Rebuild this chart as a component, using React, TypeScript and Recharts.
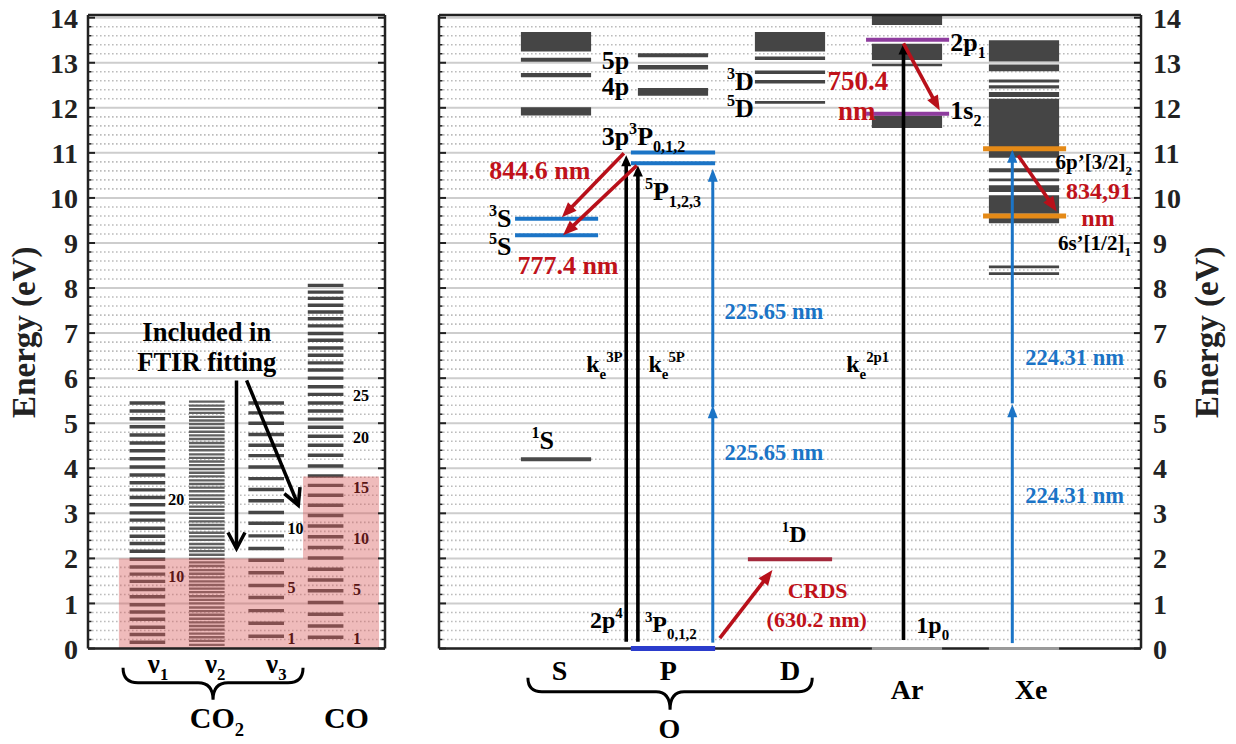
import { ComposedChart, XAxis, YAxis, CartesianGrid, ReferenceLine, ReferenceArea, ReferenceDot } from "recharts"

const FONT = "'Liberation Serif', 'Times New Roman', serif"

// energy axis
const energyTicks = [0, 1, 2, 3, 4, 5, 6, 7, 8, 9, 10, 11, 12, 13, 14]
const gridTicks = Array.from({ length: 71 }, (_, i) => Math.round(i * 2) / 10)

// CO2 / CO vibrational ladders (eV)
const leftCols = ["ν1", "ν2", "ν3", "CO"]
const nu1Levels = [0.14, 0.31, 0.47, 0.65, 0.81, 0.97, 1.15, 1.31, 1.49, 1.65, 1.81, 1.98, 2.16, 2.33, 2.49, 2.67, 2.85, 3.01, 3.19, 3.35, 3.52, 3.68, 3.85, 4.03, 4.21, 4.39, 4.56, 4.74, 4.92, 5.1, 5.27, 5.45]
const nu2Levels = [0.08, 0.17, 0.25, 0.33, 0.42, 0.5, 0.58, 0.66, 0.75, 0.83, 0.91, 1.0, 1.08, 1.16, 1.25, 1.33, 1.41, 1.49, 1.58, 1.66, 1.74, 1.83, 1.91, 1.99, 2.08, 2.16, 2.24, 2.32, 2.41, 2.49, 2.57, 2.66, 2.74, 2.82, 2.9, 2.99, 3.07, 3.15, 3.24, 3.32, 3.4, 3.49, 3.57, 3.65, 3.73, 3.82, 3.9, 3.98, 4.07, 4.15, 4.23, 4.31, 4.4, 4.48, 4.56, 4.65, 4.73, 4.81, 4.9, 4.98, 5.06, 5.14, 5.23, 5.31, 5.39, 5.48]
const nu3Levels = [0.27, 0.56, 0.84, 1.13, 1.4, 1.68, 1.96, 2.22, 2.5, 2.78, 3.02, 3.28, 3.53, 3.77, 4.03, 4.28, 4.51, 4.75, 5.0, 5.23, 5.45]
const coLevels = [0.25, 0.5, 0.76, 1.02, 1.28, 1.52, 1.76, 2.01, 2.24, 2.48, 2.72, 2.95, 3.18, 3.4, 3.62, 3.83, 4.05, 4.29, 4.51, 4.71, 4.91, 5.09, 5.27, 5.45, 5.64, 5.81, 6.0, 6.18, 6.34, 6.51, 6.67, 6.84, 6.99, 7.16, 7.32, 7.47, 7.62, 7.77, 7.91, 8.06]
const ladders = [nu1Levels, nu2Levels, nu3Levels, coLevels]
const nu1Tags: [string, number][] = [["20", 3.3], ["10", 1.6]]
const nu3Tags: [string, number][] = [["10", 2.67], ["5", 1.36], ["1", 0.23]]
const coTags: [string, number][] = [["25", 5.62], ["20", 4.69], ["15", 3.58], ["10", 2.45], ["5", 1.3], ["1", 0.23]]
const co2FitMax = 2.0
const coFitMax = 3.82

// atomic levels (eV)
const rightCols = ["S", "P", "D", "Ar", "Xe"]
const oSBands = [[13.25, 13.68], [13.02, 13.11], [12.68, 12.77], [11.83, 12.01]]
const oPBands = [[13.12, 13.21], [12.85, 12.95], [12.27, 12.44]]
const oDBands = [[13.25, 13.68], [13.06, 13.14], [12.75, 12.83], [12.54, 12.62], [12.09, 12.15]]
const arBands = [[13.84, 14.06], [13.06, 13.42], [12.92, 12.98], [11.55, 11.83]]
const xeBands = [[13.03, 13.5], [12.81, 12.96], [12.56, 12.63], [12.43, 12.5], [12.24, 12.35], [11.13, 12.2], [10.89, 11.05], [10.57, 10.66], [10.37, 10.43], [10.13, 10.28], [9.65, 10.06], [9.44, 9.57], [8.44, 8.5], [8.29, 8.35]]
const bands = [oSBands, oPBands, oDBands, arBands, xeBands]

const O_3S = 9.54
const O_5S = 9.17
const O_1S = 4.2
const O_3P = 11.01
const O_5P = 10.77
const O_1D = 1.98
const AR_2P1 = 13.51
const AR_1S2 = 11.87
const XE_6P = 11.09
const XE_6S = 9.6

// transitions [x1, e1, x2, e2]
const ftirArrows = [[2.5, 5.95, 2.5, 2.22], [2.67, 5.95, 3.54, 3.18]]
const electronArrows = [[1.6, 0.15, 1.6, 10.95], [1.7, 0.15, 1.7, 10.72], [3.97, 0.19, 3.97, 13.43]]
const laserArrows = [[2.34, 0.13, 2.34, 5.4], [2.34, 5.35, 2.34, 10.65], [4.9, 0.12, 4.9, 5.42], [4.9, 5.44, 4.9, 11.07]]
const emissionArrows = [[1.58, 10.99, 1.05, 9.57], [1.69, 10.72, 1.06, 9.17], [3.97, 13.43, 4.28, 11.94], [4.95, 10.94, 5.28, 9.7], [2.4, 0.23, 2.85, 1.74]]

const RED = "#c0121a"
const BLUE = "#1b74c6"
const axisStyle = { stroke: "#222", strokeWidth: 2.5 }
const RIGHT_PLOT_W = 702

type Mode = "n" | "sup" | "sub"
type Part = [string, Mode?]
const shift: Record<Mode, number> = { n: 0, sup: -0.42, sub: 0.28 }

const richShape = (parts: Part[], size: number, color: string, anchor: string, rotate = 0) => (p: any) => {
  let prev = 0
  return (
    <text
      x={p.cx}
      y={p.cy}
      fontFamily={FONT}
      fontWeight="bold"
      fontSize={size}
      fill={color}
      textAnchor={anchor}
      transform={rotate ? `rotate(${rotate} ${p.cx} ${p.cy})` : undefined}
    >
      {parts.map(([t, m = "n"], i) => {
        const off = shift[m] * size
        const dy = off - prev
        prev = off
        return (
          <tspan key={i} dy={dy} fontSize={m === "n" ? size : size * 0.62}>
            {t}
          </tspan>
        )
      })}
    </text>
  )
}

const txt = (key: string, x: number, y: number, parts: Part[], size: number, color = "#000", anchor = "start", rotate = 0) => (
  <ReferenceDot key={key} x={x} y={y} r={0} ifOverflow="visible" shape={richShape(parts, size, color, anchor, rotate)} />
)

const arrowShape = (color: string, width: number, headLen: number, headWid: number, open = false) => (p: any) => {
  const { x1, y1, x2, y2 } = p
  const dx = x2 - x1
  const dy = y2 - y1
  const len = Math.hypot(dx, dy) || 1
  const ux = dx / len
  const uy = dy / len
  const bx = x2 - ux * headLen
  const by = y2 - uy * headLen
  const lx = bx - uy * headWid / 2
  const ly = by + ux * headWid / 2
  const rx = bx + uy * headWid / 2
  const ry = by - ux * headWid / 2
  if (open) {
    return (
      <g>
        <line x1={x1} y1={y1} x2={x2} y2={y2} stroke={color} strokeWidth={width} />
        <polyline points={`${lx},${ly} ${x2},${y2} ${rx},${ry}`} fill="none" stroke={color} strokeWidth={width} />
      </g>
    )
  }
  return (
    <g>
      <line x1={x1} y1={y1} x2={x2 - ux * headLen * 0.7} y2={y2 - uy * headLen * 0.7} stroke={color} strokeWidth={width} />
      <polygon points={`${lx},${ly} ${x2},${y2} ${rx},${ry}`} fill={color} />
    </g>
  )
}

const braceShape = (bar: number, depth: number) => (p: any) => {
  const { x1, x2, y1: y } = p
  const mid = (x1 + x2) / 2
  const b = bar
  const d = `M${x1},${y} Q${x1},${y + b} ${x1 + b},${y + b} L${mid - b},${y + b} Q${mid},${y + b} ${mid},${y + depth} Q${mid},${y + b} ${mid + b},${y + b} L${x2 - b},${y + b} Q${x2},${y + b} ${x2},${y}`
  return <path d={d} fill="none" stroke="#000" strokeWidth={3} />
}

const makeTick = (side: "left" | "right", margin: number, labels: boolean) => (props: any) => {
  const { x, y, payload } = props
  const v = payload.value
  const major = Math.abs(v - Math.round(v)) < 1e-6
  const ax = side === "left" ? x + margin : x - margin
  const dir = side === "left" ? 1 : -1
  const len = major ? 7 : 3.5
  return (
    <g>
      <line x1={ax} x2={ax + dir * len} y1={y} y2={y} stroke="#222" strokeWidth={major ? 2 : 1.5} />
      {labels && major && (
        <text x={x} y={y} dy="0.36em" textAnchor={side === "left" ? "end" : "start"} fontFamily={FONT} fontWeight="bold" fontSize={28} fill="#222">
          {Math.round(v)}
        </text>
      )}
    </g>
  )
}

const gridLine = (p: any) => {
  const major = p.index % 5 === 0
  return (
    <line
      key={p.key}
      x1={p.x1}
      x2={p.x2}
      y1={p.y1}
      y2={p.y2}
      stroke={major ? "#cdcdcd" : "#bcbcbc"}
      strokeWidth={major ? 2 : 1.6}
      strokeDasharray={major ? undefined : "1.6 2.4"}
    />
  )
}

const arrows = (list: number[][], key: string, color: string, width: number, hl: number, hw: number, open = false) =>
  list.map(([x1, e1, x2, e2], i) => (
    <ReferenceLine key={`${key}${i}`} segment={[{ x: x1, y: e1 }, { x: x2, y: e2 }]} ifOverflow="visible" shape={arrowShape(color, width, hl, hw, open)} />
  ))

const level = (key: string, xc: number, half: number, e: number, color: string, width: number) => (
  <ReferenceLine key={key} segment={[{ x: xc - half, y: e }, { x: xc + half, y: e }]} ifOverflow="visible" stroke={color} strokeWidth={width} />
)

// ground states sit on the frame: drawn as a dot-layer mark so they stay above the axis line
const groundLevel = (key: string, xc: number, half: number, color: string, width: number) => {
  const halfPx = (half * RIGHT_PLOT_W) / 6
  return (
    <ReferenceDot
      key={key}
      x={xc}
      y={0}
      r={0}
      ifOverflow="visible"
      shape={(p: any) => <line x1={p.cx - halfPx} x2={p.cx + halfPx} y1={p.cy} y2={p.cy} stroke={color} strokeWidth={width} />}
    />
  )
}

const yAxes = (leftLabels: boolean, rightLabels: boolean, lw: number, rw: number) => [
  <YAxis
    key="yl"
    type="number"
    domain={[0, 14.06]}
    allowDataOverflow
    ticks={gridTicks}
    interval={0}
    width={lw}
    tickSize={0}
    tickMargin={leftLabels ? 10 : 0}
    tickLine={false}
    axisLine={axisStyle}
    tick={makeTick("left", leftLabels ? 10 : 0, leftLabels)}
  />,
  <YAxis
    key="yr"
    yAxisId="r"
    orientation="right"
    type="number"
    domain={[0, 14.06]}
    allowDataOverflow
    ticks={gridTicks}
    interval={0}
    width={rw}
    tickSize={0}
    tickMargin={rightLabels ? 12 : 0}
    tickLine={false}
    axisLine={axisStyle}
    tick={makeTick("right", rightLabels ? 12 : 0, rightLabels)}
  />,
]

const xAxes = (xMax: number) => [
  <XAxis key="xb" dataKey="x" type="number" domain={[0, xMax]} allowDataOverflow tick={false} tickLine={false} height={1} axisLine={axisStyle} />,
  <XAxis key="xt" dataKey="x" xAxisId="t" orientation="top" type="number" domain={[0, xMax]} allowDataOverflow tick={false} tickLine={false} height={1} axisLine={axisStyle} />,
]

const leftData = leftCols.map((name, i) => ({ name, x: i + 1 }))
const rightData = rightCols.map((name, i) => ({ name, x: i + 1 }))

export default function App() {
  return (
    <div style={{ position: "absolute", left: 0, top: 0, width: 1236, height: 744, background: "#fff" }}>
      <div style={{ position: "absolute", left: 0, top: 0 }}>
        <ComposedChart data={leftData} width={420} height={744} margin={{ top: 14, right: 30, bottom: 94.5, left: 28 }}>
          <CartesianGrid vertical={false} horizontal={gridLine} />
          {ladders.map((levels, ci) =>
            levels.map((e, li) => {
              const hw = ci === 1 ? 0.026 : 0.038
              return (
                <ReferenceArea
                  key={`l${ci}-${li}`}
                  x1={ci + 0.7}
                  x2={ci + 1.3}
                  y1={e - hw}
                  y2={e + hw}
                  fill={ci === 1 ? "#616161" : "#464646"}
                  fillOpacity={1}
                  stroke="none"
                />
              )
            })
          )}
          <ReferenceArea x1={0.52} x2={3.62} y1={0} y2={co2FitMax} fill="#d85c5c" fillOpacity={0.42} stroke="none" />
          <ReferenceArea x1={3.62} x2={4.9} y1={0} y2={coFitMax} fill="#d85c5c" fillOpacity={0.42} stroke="none" />
          {arrows(ftirArrows, "f", "#000", 3.5, 16, 17, true)}
          <ReferenceLine segment={[{ x: 0.59, y: -0.43 }, { x: 3.62, y: -0.43 }]} ifOverflow="visible" shape={braceShape(15, 32)} />
          {xAxes(5)}
          {yAxes(true, false, 60, 5)}
          {txt("inc1", 2.0, 6.82, [["Included in"]], 26.5, "#000", "middle")}
          {txt("inc2", 2.0, 6.16, [["FTIR fitting"]], 26.5, "#000", "middle")}
          {nu1Tags.map(([t, e]) => txt(`n1${t}`, 1.35, e - 0.12, [[t]], 16, e < co2FitMax ? "#5a1616" : "#000"))}
          {nu3Tags.map(([t, e]) => txt(`n3${t}`, 3.36, e - 0.12, [[t]], 16, e < co2FitMax ? "#5a1616" : "#000"))}
          {coTags.map(([t, e]) => txt(`co${t}`, 4.46, e - 0.12, [[t]], 16, e < coFitMax ? "#5a1616" : "#000"))}
          {leftCols.slice(0, 3).map((c, i) => txt(`c${i}`, [1.18, 2.14, 3.17][i], -0.54, [[c.slice(0, 1)], [c.slice(1), "sub"]], 27, "#000", "middle"))}
          {txt("co2", 2.17, -1.76, [["CO"], ["2", "sub"]], 30, "#000", "middle")}
          {txt("co", 4.35, -1.76, [[leftCols[3]]], 30, "#000", "middle")}
          {txt("ylab", -0.89, 7.02, [["Energy (eV)"]], 33, "#222", "middle", -90)}
        </ComposedChart>
      </div>

      <div style={{ position: "absolute", left: 420, top: 0 }}>
        <ComposedChart data={rightData} width={816} height={744} margin={{ top: 14, right: 35, bottom: 94.5, left: 14 }}>
          <CartesianGrid vertical={false} horizontal={gridLine} />
          {bands.map((list, ci) =>
            list.map(([lo, hi], bi) => (
              <ReferenceArea key={`b${ci}-${bi}`} x1={ci + 0.7} x2={ci + 1.3} y1={lo} y2={hi} fill="#454545" fillOpacity={1} stroke="none" />
            ))
          )}
          {level("o1s", 1, 0.3, O_1S, "#4a4a4a", 4)}
          {level("o3s", 1.005, 0.355, O_3S, BLUE, 4)}
          {level("o5s", 1.005, 0.355, O_5S, BLUE, 4)}
          {level("o3p", 2.0, 0.36, O_3P, BLUE, 4)}
          {level("o5p", 2.0, 0.36, O_5P, BLUE, 4)}
          {level("o1d", 3.0, 0.36, O_1D, "#a3283b", 4)}
          {level("ar2p", 4.005, 0.355, AR_2P1, "#8e3c9e", 4)}
          {level("ar1s", 4.005, 0.355, AR_1S2, "#8e3c9e", 4)}
          {level("xe6p", 5.005, 0.355, XE_6P, "#e58a17", 5)}
          {level("xe6s", 5.005, 0.355, XE_6S, "#e58a17", 5)}
          {arrows(electronArrows, "k", "#000", 3.6, 11, 10)}
          {arrows(laserArrows, "l", BLUE, 3, 13, 10)}
          {arrows(emissionArrows, "r", "#b8101a", 3.6, 15, 12)}
          <ReferenceLine segment={[{ x: 0.76, y: -0.65 }, { x: 3.19, y: -0.65 }]} ifOverflow="visible" shape={braceShape(14, 32)} />
          {xAxes(6)}
          {yAxes(false, true, 5, 60)}
          {groundLevel("o3p0", 2.0, 0.36, "#2b3ccc", 5)}
          {groundLevel("ar0", 4.0, 0.3, "#9a9a9a", 3)}
          {groundLevel("xe0", 5.0, 0.3, "#9a9a9a", 3)}

          {txt("5p", 1.39, 12.87, [["5p"]], 26)}
          {txt("4p", 1.39, 12.28, [["4p"]], 26)}
          {txt("3d", 2.69, 12.4, [["3", "sup"], ["D"]], 26, "#000", "end")}
          {txt("5d", 2.69, 11.79, [["5", "sup"], ["D"]], 26, "#000", "end")}
          {txt("3p3p", 1.39, 11.17, [["3p"], ["3", "sup"], ["P"], ["0,1,2", "sub"]], 26)}
          {txt("5p123", 1.76, 9.96, [["5", "sup"], ["P"], ["1,2,3", "sub"]], 26)}
          {txt("844", 0.43, 10.43, [["844.6 nm"]], 26, RED)}
          {txt("3s", 0.62, 9.35, [["3", "sup"], ["S"]], 26, "#000", "end")}
          {txt("5s", 0.62, 8.73, [["5", "sup"], ["S"]], 26, "#000", "end")}
          {txt("777", 0.67, 8.32, [["777.4 nm"]], 26, RED)}
          {txt("1s", 0.79, 4.42, [["1", "sup"], ["S"]], 26)}
          {txt("ke3p", 1.57, 6.14, [["k"], ["e", "sub"], ["3P", "sup"]], 24, "#000", "end")}
          {txt("ke5p", 1.79, 6.14, [["k"], ["e", "sub"], ["5P", "sup"]], 24)}
          {txt("2p4", 1.57, 0.45, [["2p"], ["4", "sup"]], 24, "#000", "end")}
          {txt("3p012", 1.76, 0.37, [["3", "sup"], ["P"], ["0,1,2", "sub"]], 24)}
          {txt("225a", 2.44, 7.32, [["225.65 nm"]], 22.5, BLUE)}
          {txt("225b", 2.44, 4.18, [["225.65 nm"]], 22.5, BLUE)}
          {txt("1d", 2.93, 2.37, [["1", "sup"], ["D"]], 24)}
          {txt("crds", 2.98, 1.11, [["CRDS"]], 22, RED)}
          {txt("630", 2.8, 0.48, [["(630.2 nm)"]], 22, RED)}
          {txt("ke2p1", 3.48, 6.14, [["k"], ["e", "sub"], ["2p1", "sup"]], 24)}
          {txt("1p0", 4.08, 0.34, [["1p"], ["0", "sub"]], 24)}
          {txt("2p1", 4.37, 13.27, [["2p"], ["1", "sub"]], 26)}
          {txt("1s2", 4.37, 11.76, [["1s"], ["2", "sub"]], 26)}
          {txt("750", 3.32, 12.39, [["750.4"]], 27, RED)}
          {txt("750nm", 3.41, 11.72, [["nm"]], 27, RED)}
          {txt("6p", 5.27, 10.65, [["6p’[3/2]"], ["2", "sub"]], 21)}
          {txt("834", 5.36, 9.98, [["834,91"]], 24, RED)}
          {txt("834nm", 5.49, 9.37, [["nm"]], 24, RED)}
          {txt("6s", 5.29, 8.84, [["6s’[1/2]"], ["1", "sub"]], 21)}
          {txt("224a", 5.01, 6.29, [["224.31 nm"]], 22.5, BLUE)}
          {txt("224b", 5.01, 3.22, [["224.31 nm"]], 22.5, BLUE)}

          {rightCols.slice(0, 3).map((c, i) => txt(`o${c}`, [1.03, 1.96, 3.0][i], -0.7, [[c]], 28, "#000", "middle"))}
          {txt("oname", 1.97, -1.99, [["O"]], 28, "#000", "middle")}
          {txt("ar", 4.0, -1.13, [[rightCols[3]]], 28, "#000", "middle")}
          {txt("xe", 5.06, -1.13, [[rightCols[4]]], 28, "#000", "middle")}
          {txt("ylab2", 6.66, 7.02, [["Energy (eV)"]], 33, "#222", "middle", -90)}
        </ComposedChart>
      </div>
    </div>
  )
}
